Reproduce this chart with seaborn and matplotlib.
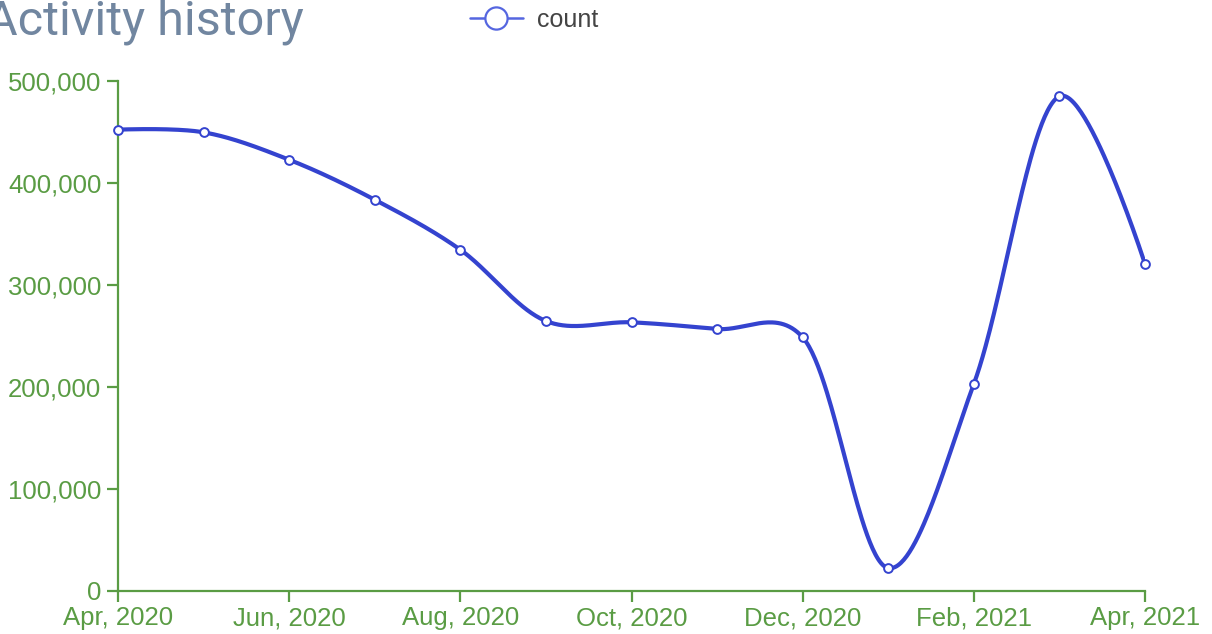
import numpy as np
import pandas as pd
import matplotlib
matplotlib.use("Agg")
import matplotlib.pyplot as plt
import seaborn as sns
from matplotlib.lines import Line2D
from matplotlib.ticker import FuncFormatter

# ---- data ----
months = ["Apr, 2020", "May, 2020", "Jun, 2020", "Jul, 2020", "Aug, 2020", "Sep, 2020",
          "Oct, 2020", "Nov, 2020", "Dec, 2020", "Jan, 2021", "Feb, 2021", "Mar, 2021",
          "Apr, 2021"]
counts = [452300, 449700, 422800, 383600, 334600, 264700,
          263400, 256900, 248700, 22500, 203000, 485000, 320600]
y_ticks = [0, 100000, 200000, 300000, 400000, 500000]

GREEN = "#5a9c44"
BLUE = "#3443cf"
LEG_BLUE = "#5566e0"

sns.set_theme(style="white")
plt.rcParams['font.family'] = ['Liberation Sans', 'DejaVu Sans']

df = pd.DataFrame({"idx": np.arange(len(months)), "month": months, "count": counts})

# Catmull-Rom smoothing (computed in screen-like units) for the drawn line
SX = (1145 - 118) / 12.0      # px per month
SY = 510 / 500000.0           # px per count
P = np.column_stack([df["idx"].to_numpy(float) * SX, df["count"].to_numpy(float) * SY])
n = len(P)
alpha = 0.2
def dist_a(p, q):
    d2 = float(np.sum((p - q) ** 2))
    return d2 ** (alpha / 2), d2 ** alpha
xs, ys = [], []
for i in range(n - 1):
    p1, p2 = P[i], P[i + 1]
    l12_a, l12_2a = dist_a(p1, p2)
    c1 = p1.copy()
    c2 = p2.copy()
    if i > 0:
        p0 = P[i - 1]
        l01_a, l01_2a = dist_a(p0, p1)
        a = 2 * l01_2a + 3 * l01_a * l12_a + l12_2a
        m = 3 * l01_a * (l01_a + l12_a)
        c1 = (p1 * a - p0 * l12_2a + p2 * l01_2a) / m
    if i < n - 2:
        p3 = P[i + 2]
        l23_a, l23_2a = dist_a(p2, p3)
        b = 2 * l23_2a + 3 * l23_a * l12_a + l12_2a
        m = 3 * l23_a * (l23_a + l12_a)
        c2 = (p2 * b + p1 * l23_2a - p3 * l12_2a) / m
    t = np.linspace(0, 1, 60, endpoint=(i == n - 2))[:, None]
    seg = ((1 - t) ** 3) * p1 + 3 * ((1 - t) ** 2) * t * c1 + 3 * (1 - t) * t ** 2 * c2 + t ** 3 * p2
    xs.append(seg[:, 0] / SX)
    ys.append(seg[:, 1] / SY)
curve = pd.DataFrame({"idx": np.concatenate(xs), "count": np.concatenate(ys)})

fig = plt.figure(figsize=(12.12, 6.34), dpi=100)
ax = fig.add_axes([118/1212, 1-591/634, (1145-118)/1212, (591-81)/634])

sns.lineplot(data=curve, x="idx", y="count", ax=ax, color=BLUE, linewidth=3,
             sort=False, estimator=None, zorder=2)
sns.scatterplot(data=df, x="idx", y="count", ax=ax, s=40, color="white",
                edgecolor=BLUE, linewidth=1.4, zorder=3, clip_on=False)

ax.set_xlim(0, n - 1)
ax.set_ylim(0, 500000)
ax.set_xticks(df["idx"][::2])
ax.set_xticklabels(df["month"][::2])
ax.set_yticks(y_ticks)
ax.yaxis.set_major_formatter(FuncFormatter(lambda v, p: f"{int(v):,}"))
ax.set_xlabel("")
ax.set_ylabel("")

for s in ["top", "right"]:
    ax.spines[s].set_visible(False)
for s in ["left", "bottom"]:
    ax.spines[s].set_color(GREEN)
    ax.spines[s].set_linewidth(1.6)
ax.tick_params(axis="both", which="major", direction="out", length=8, width=1.6,
               color=GREEN, labelcolor=GREEN, labelsize=18.5, pad=4, left=True, bottom=True)
ax.tick_params(axis="x", pad=3)
ax.set_facecolor("white")
ax.grid(False)

fig.text(-0.0113, 1.003, "Activity history", fontsize=35, color="#7186a0",
         family=["Roboto", "DejaVu Sans"], ha="left", va="top")

handle = Line2D([0], [0], color=LEG_BLUE, linewidth=1.8, marker="o", markersize=16,
                markerfacecolor="white", markeredgecolor=LEG_BLUE, markeredgewidth=1.6)
fig.legend([handle], ["count"], loc="center left", bbox_to_anchor=(470/1212, 1-20/634),
           frameon=False, fontsize=18, labelcolor="#444444", handlelength=2.1,
           handletextpad=0.6, borderpad=0, borderaxespad=0)

fig.savefig("out.png", dpi=100, facecolor="white")
